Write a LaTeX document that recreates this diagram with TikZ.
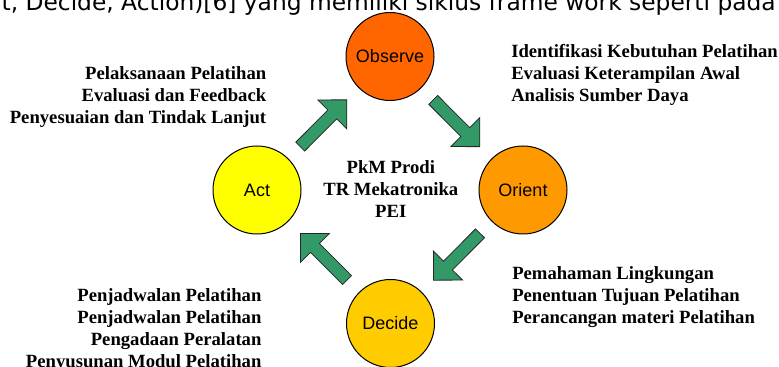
\documentclass[tikz,border=0pt]{standalone}
\usepackage{fontspec}
\setmainfont{Liberation Serif}
\newfontfamily\labelfont{Liberation Sans}
\newfontfamily\capfont{DejaVu Sans}
\usepackage{tikz}
\usetikzlibrary{calc}
\definecolor{observecol}{HTML}{FF6600}
\definecolor{orientcol}{HTML}{FF9900}
\definecolor{decidecol}{HTML}{FFCC00}
\definecolor{actcol}{HTML}{FFFF00}
\definecolor{arrowgreen}{HTML}{339966}
\tikzset{phase/.style={circle,draw=black,line width=0.75pt,minimum size=66pt,inner sep=0pt,
  font=\labelfont\fontsize{13.5}{16}\selectfont}}
\tikzset{notes/.style={inner sep=0pt,font=\bfseries\fontsize{14}{16.5}\selectfont}}
\tikzset{arrowbody/.style={draw=black!85,line width=0.6pt,fill=arrowgreen,line join=miter}}
% block arrow centred between two phases
\newcommand{\cyclearrow}[2]{%
  \coordinate (m) at ($(#1)!0.5!(#2)$);
  \coordinate (hb) at ($(m)!9.35pt!(#2)$);
  \coordinate (tl) at ($(m)!-24.75pt!(#2)$);
  \draw[arrowbody] ($(m)!24.75pt!(#2)$) -- ($(hb)!15.4pt!90:(#2)$) -- ($(hb)!4.7pt!90:(#2)$)
    -- ($(tl)!4.7pt!90:(#2)$) -- ($(tl)!4.7pt!-90:(#2)$) -- ($(hb)!4.7pt!-90:(#2)$)
    -- ($(hb)!15.4pt!-90:(#2)$) -- cycle;
}

\begin{document}
\begin{tikzpicture}[x=0.75pt,y=-0.75pt]
\clip (0,0) rectangle (779,367);
% \draw[help lines] (0,0) grid (779,367);
\node (caption) [anchor=base east,inner sep=0pt,font=\capfont\fontsize{17.5}{20}\selectfont] at (776,11)
  {t, Decide, Action)[6] yang memiliki siklus frame work seperti pada};
%
\node (observe) [phase,fill=observecol] at (390,56.5) {Observe};
\node (orient) [phase,fill=orientcol] at (523,190) {Orient};
\node (decide) [phase,fill=decidecol] at (390.5,323.5) {Decide};
\node (act) [phase,fill=actcol] at (257,190) {Act};
%
\cyclearrow{act}{observe}
\cyclearrow{observe}{orient}
\cyclearrow{orient}{decide}
\cyclearrow{decide}{act}
%
\node (centre) [notes,align=center,anchor=north] at (390.8,157.9)
  {\strut PkM Prodi\\ \strut TR Mekatronika\\ \strut PEI};
\node (actnotes) [notes,align=right,anchor=north east] at (266.5,63.9)
  {\strut Pelaksanaan Pelatihan\\ \strut Evaluasi dan Feedback\\ \strut Penyesuaian dan Tindak Lanjut};
\node (observenotes) [notes,align=left,anchor=north west] at (511,41.6)
  {\strut Identifikasi Kebutuhan Pelatihan\\ \strut Evaluasi Keterampilan Awal\\ \strut Analisis Sumber Daya};
\node (orientnotes) [notes,align=left,anchor=north west] at (512,263.9)
  {\strut Pemahaman Lingkungan\\ \strut Penentuan Tujuan Pelatihan\\ \strut Perancangan materi Pelatihan};
\node (decidenotes) [notes,align=right,anchor=north east] at (261.7,286.3)
  {\strut Penjadwalan Pelatihan\\ \strut Penjadwalan Pelatihan\\ \strut Pengadaan Peralatan\\ \strut Penyusunan Modul Pelatihan};
\end{tikzpicture}
\end{document}
